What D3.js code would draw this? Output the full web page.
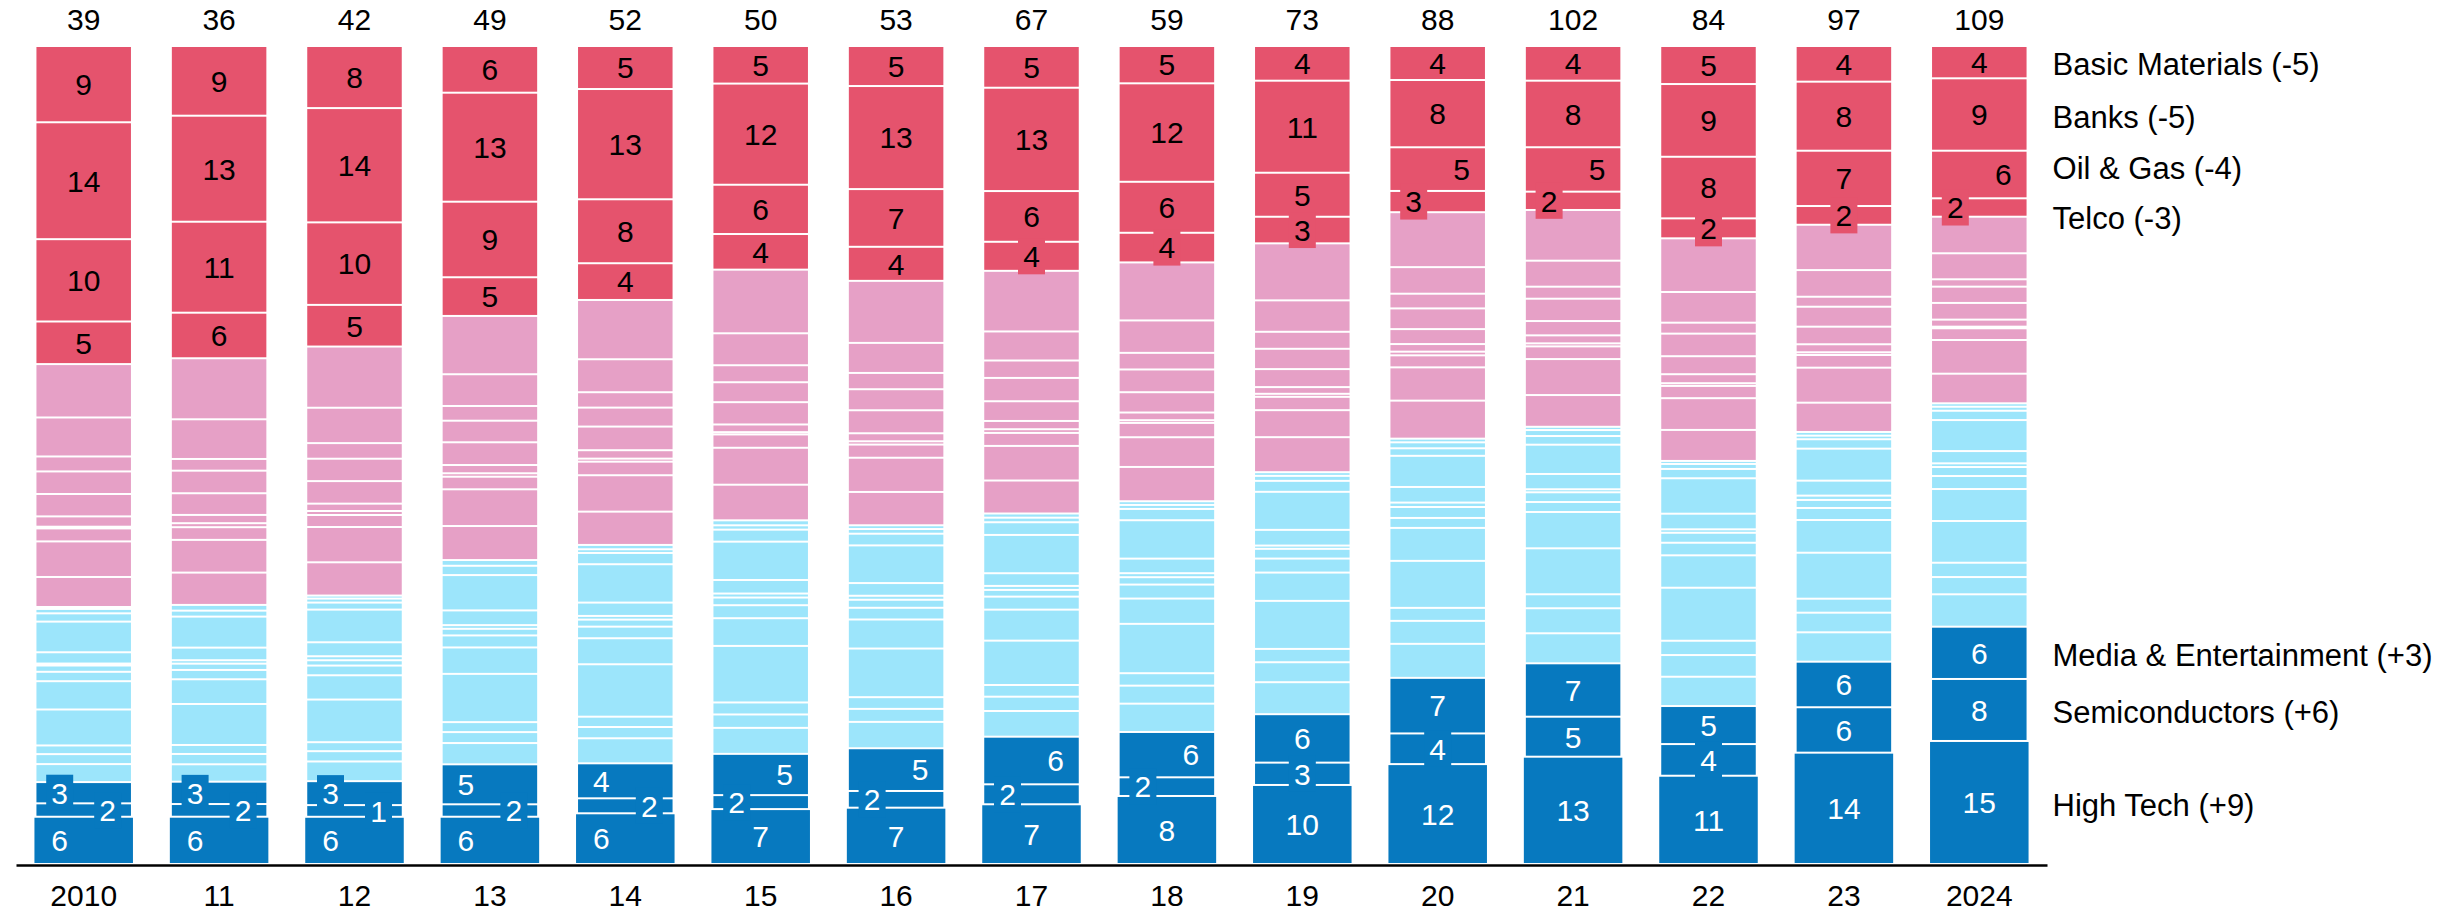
<!DOCTYPE html>
<html>
<head>
<meta charset="utf-8">
<script src="https://cdn.jsdelivr.net/npm/d3@7"></script>
<style>
  html, body { margin: 0; padding: 0; background: #fff; }
  svg { display: block; font-family: "Liberation Sans", Arial, Helvetica, sans-serif; }
</style>
</head>
<body>
<svg id="chart" width="2451" height="913"></svg>
<script>
// ---- data: sector shares of the index (%), one entry per year ----
const years = [2010, 2011, 2012, 2013, 2014, 2015, 2016, 2017, 2018, 2019, 2020, 2021, 2022, 2023, 2024];
const yearLabels = ["2010", "11", "12", "13", "14", "15", "16", "17", "18", "19", "20", "21", "22", "23", "2024"];
const totals = [39, 36, 42, 49, 52, 50, 53, 67, 59, 73, 88, 102, 84, 97, 109];

const highTech = [5.78, 5.78, 5.78, 5.78, 6.2, 6.72, 6.88, 7.3, 8.31, 9.66, 12.22, 13.12, 10.79, 13.61, 15.04];
const semiconductors = [1.64, 1.55, 1.43, 1.52, 1.83, 1.71, 2.04, 2.44, 2.28, 2.73, 3.75, 4.89, 3.87, 5.55, 7.58];
const mediaEntertainment = [2.6, 2.73, 2.93, 4.89, 4.28, 5.05, 5.22, 5.82, 5.54, 5.92, 6.8, 6.53, 4.65, 5.57, 6.39];

const telco = [5.21, 5.57, 5.1, 4.73, 4.49, 4.36, 4.16, 3.55, 3.62, 3.25, 2.6, 2.24, 2.44, 2.29, 2.25];
const oilGas = [10.07, 11.12, 10.1, 9.24, 7.82, 6.03, 7.05, 6.2, 6.23, 5.38, 5.34, 5.43, 7.53, 6.76, 5.82];
const banks = [14.3, 12.96, 13.99, 13.33, 13.48, 12.38, 12.59, 12.63, 12.03, 11.25, 8.23, 8.14, 8.89, 8.44, 8.85];
const basicMaterials = [9.33, 8.52, 7.6, 5.71, 5.26, 4.6, 4.89, 5.1, 4.56, 4.24, 4.16, 4.24, 4.65, 4.36, 3.95];

// other growth sectors, listed from the top of the band downwards
const otherGrowth = [
  [0.24, 0.54, 1.01, 3.75, 1.38, 0.24, 0.77, 1.15, 3.46, 4.40, 1.06, 1.22, 2.20],
  [0.70, 0.73, 3.79, 1.54, 0.42, 0.77, 1.14, 3.02, 5.01, 1.10, 1.26, 2.13],
  [0.37, 0.49, 0.86, 4.00, 1.71, 0.49, 0.65, 1.19, 2.97, 5.22, 1.10, 1.26, 2.41],
  [0.70, 1.14, 4.32, 1.80, 0.45, 0.81, 1.47, 3.23, 5.90, 1.22, 1.34, 2.60],
  [0.53, 0.45, 1.38, 4.69, 1.63, 0.45, 0.86, 1.42, 3.18, 6.41, 1.26, 1.38, 3.06],
  [0.61, 0.53, 1.47, 4.69, 1.66, 0.49, 0.94, 1.59, 3.39, 6.92, 1.47, 1.64, 3.18],
  [0.46, 0.57, 1.43, 4.60, 1.55, 0.49, 0.98, 1.43, 3.55, 5.94, 1.43, 1.59, 3.22],
  [0.51, 0.56, 1.55, 4.68, 1.55, 0.49, 0.82, 1.59, 3.79, 5.42, 1.43, 1.75, 3.14],
  [0.45, 0.49, 1.38, 4.69, 1.78, 0.49, 0.90, 1.71, 3.09, 6.03, 1.52, 2.20, 3.46],
  [0.45, 0.61, 1.34, 4.65, 1.92, 0.40, 1.19, 1.71, 3.46, 5.87, 1.63, 2.44, 3.91],
  [0.45, 0.73, 0.92, 3.81, 1.91, 0.54, 1.34, 1.22, 4.03, 5.75, 1.59, 2.81, 4.16],
  [0.40, 0.73, 1.06, 3.58, 1.87, 0.37, 1.19, 1.22, 4.44, 5.62, 1.71, 3.06, 3.67],
  [0.37, 0.61, 1.14, 4.33, 1.91, 0.42, 1.22, 1.54, 3.96, 6.48, 1.75, 2.65, 3.58],
  [0.45, 0.44, 1.15, 3.91, 1.83, 0.53, 0.98, 1.47, 4.00, 5.62, 1.71, 2.40, 3.59],
  [0.42, 0.49, 1.14, 3.79, 1.50, 0.45, 1.10, 1.59, 3.91, 5.10, 1.75, 2.11, 3.96]
];

// other legacy sectors, listed from the top of the band downwards
const otherLegacy = [
  [6.53, 4.77, 1.83, 2.76, 2.74, 1.26, 0.21, 1.59, 4.35, 3.67],
  [7.46, 4.85, 1.43, 2.76, 2.65, 1.01, 0.49, 1.55, 4.00, 3.95],
  [7.49, 4.33, 1.91, 2.74, 2.76, 0.90, 0.49, 1.47, 4.32, 4.07],
  [7.13, 3.88, 1.80, 2.64, 2.78, 1.01, 0.42, 1.54, 4.49, 4.16],
  [7.25, 4.03, 1.88, 2.32, 2.89, 1.03, 0.37, 1.66, 4.45, 4.07],
  [7.79, 3.91, 2.08, 2.44, 2.73, 0.94, 0.28, 1.63, 4.52, 4.36],
  [7.58, 3.67, 1.99, 2.57, 2.81, 0.98, 0.40, 1.61, 4.18, 4.07],
  [7.41, 3.55, 2.13, 2.85, 2.41, 1.01, 0.45, 1.59, 4.23, 4.03],
  [7.09, 3.96, 2.03, 2.78, 2.48, 0.94, 0.33, 1.75, 3.63, 4.19],
  [6.97, 3.84, 2.08, 2.48, 2.20, 0.82, 0.37, 1.63, 3.30, 4.28],
  [6.72, 3.25, 1.80, 2.53, 1.83, 0.93, 0.45, 1.47, 4.07, 4.65],
  [6.20, 3.18, 1.47, 2.73, 1.75, 0.98, 0.37, 1.55, 4.40, 3.88],
  [6.56, 3.75, 1.34, 2.76, 2.20, 1.10, 0.33, 1.50, 3.88, 3.79],
  [5.54, 3.26, 1.22, 2.44, 2.15, 0.98, 0.33, 1.55, 4.28, 3.58],
  [4.47, 3.18, 0.90, 1.99, 2.04, 0.86, 0.20, 1.43, 4.12, 3.62]
];

// ---- layout ----
const W = 2451, H = 913;
const barTop = 46, barBottom = 864, axisY = 865;
const FONT = 30;
const COLORS = { tech: "#0779bf", growth: "#9ce5fb", legacy: "#e6a0c6", old: "#e5536d" };

const svg = d3.select("#chart");

const x = d3.scaleBand()
  .domain(years)
  .range([16, 2047])
  .paddingInner(0.302)
  .paddingOuter(0.151);

const fmt = d3.format(".0f");

// build the stack of every bar, bottom to top
const bars = years.map((yr, i) => {
  const segs = [];
  const named = (key, v, color, group, textColor) => ({ key, v, color, group, textColor, labelled: true });
  segs.push(Object.assign(named("High Tech", highTech[i], COLORS.tech, "up", "#fff"), { wide: true }));
  segs.push(named("Semiconductors", semiconductors[i], COLORS.tech, "up", "#fff"));
  segs.push(named("Media & Entertainment", mediaEntertainment[i], COLORS.tech, "up", "#fff"));
  otherGrowth[i].slice().reverse().forEach(v => segs.push({ v, color: COLORS.growth }));
  otherLegacy[i].slice().reverse().forEach(v => segs.push({ v, color: COLORS.legacy }));
  segs.push(named("Telco", telco[i], COLORS.old, "down", "#000"));
  segs.push(named("Oil & Gas", oilGas[i], COLORS.old, "down", "#000"));
  segs.push(named("Banks", banks[i], COLORS.old, "down", "#000"));
  segs.push(named("Basic Materials", basicMaterials[i], COLORS.old, "down", "#000"));

  let acc = 0;
  segs.forEach(s => { s.s0 = acc; acc += s.v; s.s1 = acc; });
  const y = d3.scaleLinear().domain([0, acc]).range([barBottom, barTop]);
  segs.forEach(s => {
    s.top = y(s.s1);
    s.bottom = y(s.s0);
    s.h = s.bottom - s.top;
    s.cy = (s.top + s.bottom) / 2;
  });

  // labels that would collide vertically are pushed sideways, alternating left / right
  const MIN_DIST = 34.15;
  ["up", "down"].forEach(g => {
    const lab = segs.filter(s => s.group === g); // bottom to top
    let chain = [];
    const flush = () => {
      if (chain.length > 1) chain.forEach((s, k) => { s.side = k % 2 === 0 ? -1 : 1; });
      else chain.forEach(s => { s.side = 0; });
      chain = [];
    };
    lab.forEach((s, k) => {
      if (k > 0 && lab[k - 1].cy - s.cy >= MIN_DIST) flush();
      chain.push(s);
    });
    flush();
  });
  return { yr, i, segs };
});

// ---- bars ----
const GAP = 2;
const barG = svg.append("g");
bars.forEach(b => {
  const x0 = x(b.yr), bw = x.bandwidth();
  barG.selectAll(null)
    .data(b.segs)
    .join("rect")
    .attr("x", d => d.wide ? x0 - 2 : x0)
    .attr("width", d => d.wide ? bw + 4 : bw)
    .attr("y", d => d.top + GAP / 2)
    .attr("height", d => Math.max(0, d.h - GAP))
    .attr("fill", d => d.color);
});

// ---- segment labels (a backing tile where the value does not fit its segment) ----
const boxG = svg.append("g");
const labG = svg.append("g").attr("font-size", FONT);
bars.forEach(b => {
  const cx = x(b.yr) + x.bandwidth() / 2;
  b.segs.filter(s => s.labelled).forEach(s => {
    const lx = cx + s.side * 24;
    if (s.h < 32) {
      boxG.append("rect")
        .attr("x", lx - 13.5)
        .attr("y", s.cy - 18)
        .attr("width", 27)
        .attr("height", 36)
        .attr("fill", s.color);
    }
    labG.append("text")
      .attr("x", lx)
      .attr("y", s.cy)
      .attr("dy", "0.36em")
      .attr("text-anchor", "middle")
      .attr("fill", s.textColor)
      .text(fmt(s.v));
  });
});

// ---- totals above the bars ----
svg.append("g")
  .attr("font-size", FONT)
  .selectAll("text")
  .data(years)
  .join("text")
  .attr("x", d => x(d) + x.bandwidth() / 2)
  .attr("y", 30)
  .attr("text-anchor", "middle")
  .attr("fill", "#000")
  .text((d, i) => totals[i]);

// ---- x axis ----
const axis = d3.axisBottom(x)
  .tickSize(0)
  .tickSizeOuter(0)
  .tickPadding(20)
  .tickFormat((d, i) => yearLabels[i]);
const axG = svg.append("g").attr("transform", `translate(0,${axisY})`).call(axis);
axG.select(".domain").attr("stroke", "#000").attr("stroke-width", 2.4);
axG.selectAll(".tick text")
  .attr("font-size", FONT)
  .attr("font-family", "Liberation Sans, Arial, sans-serif")
  .attr("fill", "#000");

// ---- legend at the right of the last bar, with change in points since the first year ----
const last = bars[bars.length - 1];
const first = bars[0];
const legendItems = last.segs.filter(s => s.labelled).map(s => {
  const s0 = first.segs.find(f => f.key === s.key);
  const delta = Math.round(s.v) - Math.round(s0.v);
  return { key: s.key, group: s.group, y: s.cy, delta };
});

function spread(items, gap) {
  items.sort((a, b) => a.y - b.y);
  let clusters = items.map(d => ({ items: [d], mean: d.y }));
  let merged = true;
  while (merged) {
    merged = false;
    for (let k = 0; k < clusters.length - 1; k++) {
      const a = clusters[k], c = clusters[k + 1];
      const aEnd = a.mean + (a.items.length - 1) * gap / 2;
      const cStart = c.mean - (c.items.length - 1) * gap / 2;
      if (cStart - aEnd < gap) {
        const its = a.items.concat(c.items);
        clusters.splice(k, 2, { items: its, mean: d3.mean(its, d => d.y) });
        merged = true;
        break;
      }
    }
  }
  clusters.forEach(c => c.items.forEach((d, j) => { d.ly = c.mean + (j - (c.items.length - 1) / 2) * gap; }));
}
["up", "down"].forEach(g => spread(legendItems.filter(d => d.group === g), 50));

const legendX = x(last.yr) + x.bandwidth() + 26;
svg.append("g")
  .attr("font-size", 31)
  .selectAll("text")
  .data(legendItems)
  .join("text")
  .attr("x", legendX)
  .attr("y", d => d.ly + 2)
  .attr("dy", "0.36em")
  .attr("fill", "#000")
  .text(d => `${d.key} (${d.delta > 0 ? "+" : ""}${d.delta})`);
</script>
</body>
</html>
